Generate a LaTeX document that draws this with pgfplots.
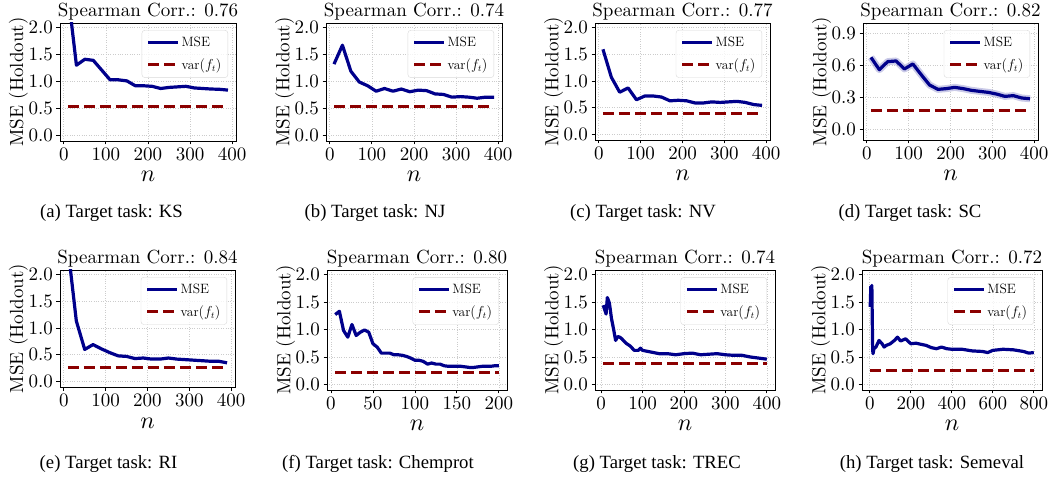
\documentclass[border=0pt]{standalone}
\usepackage{fontspec}
\usepackage{pgfplots}
\pgfplotsset{compat=1.18}
\newfontfamily\capfont{Liberation Serif}
\definecolor{mseblue}{RGB}{0,0,139}
\definecolor{varred}{RGB}{139,0,0}
\pgfplotsset{
  panel/.style={
    scale only axis,
    tick align=outside, tick pos=left,
    major tick length=3.5pt,
    every tick/.style={black, line width=0.8pt},
    axis line style={black, line width=0.9pt},
    grid=major, grid style={gray!40, dotted, line width=0.6pt},
    tick label style={font=\fontsize{10}{12}\selectfont, scale=1.9, inner sep=1.75pt},
    every axis title/.style={at={(0.5,1)}, anchor=south, inner sep=1.3pt, font=\fontsize{10}{12}\selectfont, scale=1.9},
    ylabel={MSE (Holdout)}, xlabel={$n$},
    every axis y label/.style={at={([xshift=-41.5pt]axis description cs:0,0.5)}, anchor=center, rotate=90, font=\fontsize{10}{12}\selectfont, scale=1.9},
    every axis x label/.style={at={([yshift=-41pt]axis description cs:0.5,0)}, anchor=base, inner sep=0.5pt, font=\fontsize{10}{12}\selectfont, scale=2.4},
    ymin=-0.1, ymax=2.08, ytick={0,0.5,1,1.5,2},
    yticklabel style={/pgf/number format/.cd, fixed, fixed zerofill, precision=1},
    legend style={at={(0.955,0.94)}, anchor=north east, font=\fontsize{13.5}{14}\selectfont,
      draw=black!15, rounded corners=3pt, fill=white, fill opacity=0.8, text opacity=1,
      inner xsep=4.5pt, inner ysep=5pt, row sep=6pt, cells={anchor=west}},
    legend image code/.code={\draw[#1] (0pt,0pt) -- (30pt,0pt);},
  },
  mse/.style={mseblue, line width=3.2pt, line join=round},
  var/.style={varred, line width=3pt, dash pattern=on 11pt off 5pt},
}
\begin{document}
\begin{tikzpicture}[x=1pt,y=1pt]
\useasboundingbox (0,0) rectangle (1050,482);
% (a) KS
\begin{axis}[panel, at={(60pt,341pt)}, anchor=south west, width=176pt, height=118pt,
  xmin=-9, xmax=409, xtick={0,100,200,300,400}, title={Spearman Corr.: 0.76}]
\addplot[mse] coordinates {(10,2.63)(30,1.30)(50,1.41)(70,1.39)(90,1.21)(110,1.03)(130,1.03)(150,1.01)(170,0.92)(190,0.92)(210,0.91)(230,0.87)(250,0.89)(270,0.90)(290,0.91)(310,0.88)(330,0.87)(350,0.86)(370,0.855)(390,0.84)};
\addlegendentry{MSE}
\addplot[var] coordinates {(10,0.53)(390,0.53)};
\addlegendentry{var$(f_t)$}
\end{axis}
% (b) NJ
\begin{axis}[panel, at={(326pt,341pt)}, anchor=south west, width=176pt, height=118pt,
  xmin=-9, xmax=409, xtick={0,100,200,300,400}, title={Spearman Corr.: 0.74}]
\addplot[mse] coordinates {(10,1.32)(30,1.67)(50,1.19)(70,0.99)(90,0.92)(110,0.82)(130,0.87)(150,0.82)(170,0.86)(190,0.81)(210,0.84)(230,0.83)(250,0.77)(270,0.76)(290,0.71)(310,0.72)(330,0.71)(350,0.69)(370,0.71)(390,0.71)};
\addlegendentry{MSE}
\addplot[var] coordinates {(10,0.53)(390,0.53)};
\addlegendentry{var$(f_t)$}
\end{axis}
% (c) NV
\begin{axis}[panel, at={(595pt,342pt)}, anchor=south west, width=175pt, height=117pt,
  xmin=-9, xmax=409, xtick={0,100,200,300,400}, title={Spearman Corr.: 0.77}]
\addplot[mse] coordinates {(10,1.59)(30,1.07)(50,0.79)(70,0.87)(90,0.65)(110,0.72)(130,0.72)(150,0.70)(170,0.63)(190,0.64)(210,0.63)(230,0.59)(250,0.59)(270,0.61)(290,0.60)(310,0.61)(330,0.62)(350,0.60)(370,0.56)(390,0.545)};
\addlegendentry{MSE}
\addplot[var] coordinates {(10,0.385)(390,0.385)};
\addlegendentry{var$(f_t)$}
\end{axis}
% (d) SC
\begin{axis}[panel, at={(863pt,342pt)}, anchor=south west, width=175pt, height=117pt,
  xmin=-9, xmax=409, xtick={0,100,200,300,400}, ymin=-0.1, ymax=1.0, ytick={0,0.3,0.6,0.9},
  title={Spearman Corr.: 0.82}]
\addplot[mseblue!45, opacity=0.45, line width=7pt, line join=round, forget plot] coordinates {(10,0.677)(30,0.561)(50,0.637)(70,0.643)(90,0.568)(110,0.615)(130,0.514)(150,0.417)(170,0.376)(190,0.383)(210,0.395)(230,0.383)(250,0.367)(270,0.357)(290,0.348)(310,0.332)(330,0.310)(350,0.317)(370,0.295)(390,0.288)};
\addplot[mse] coordinates {(10,0.677)(30,0.561)(50,0.637)(70,0.643)(90,0.568)(110,0.615)(130,0.514)(150,0.417)(170,0.376)(190,0.383)(210,0.395)(230,0.383)(250,0.367)(270,0.357)(290,0.348)(310,0.332)(330,0.310)(350,0.317)(370,0.295)(390,0.288)};
\addlegendentry{MSE}
\addplot[var] coordinates {(10,0.176)(390,0.176)};
\addlegendentry{var$(f_t)$}
\end{axis}
% (e) RI
\begin{axis}[panel, at={(60pt,95pt)}, anchor=south west, width=175pt, height=117pt,
  xmin=-9, xmax=409, xtick={0,100,200,300,400}, title={Spearman Corr.: 0.84}]
\addplot[mse] coordinates {(10,2.49)(30,1.13)(50,0.60)(70,0.69)(90,0.61)(110,0.54)(130,0.48)(150,0.47)(170,0.43)(190,0.44)(210,0.42)(230,0.42)(250,0.44)(270,0.42)(290,0.41)(310,0.40)(330,0.39)(350,0.38)(370,0.38)(390,0.35)};
\addlegendentry{MSE}
\addplot[var] coordinates {(10,0.26)(390,0.26)};
\addlegendentry{var$(f_t)$}
\end{axis}
% (f) Chemprot
\begin{axis}[panel, at={(327pt,92pt)}, anchor=south west, width=180pt, height=120pt,
  xmin=-4.75, xmax=209.75, xtick={0,50,100,150,200}, title={Spearman Corr.: 0.80}]
\addplot[mse] coordinates {(5,1.27)(10,1.33)(15,0.98)(20,0.86)(25,1.09)(30,0.89)(35,0.95)(40,0.99)(45,0.95)(50,0.74)(55,0.68)(60,0.57)(65,0.57)(70,0.57)(75,0.54)(80,0.54)(85,0.53)(90,0.51)(95,0.48)(100,0.44)(105,0.44)(110,0.42)(115,0.37)(120,0.39)(125,0.37)(130,0.37)(135,0.34)(140,0.33)(145,0.33)(150,0.33)(155,0.33)(160,0.32)(165,0.31)(170,0.31)(175,0.32)(180,0.33)(185,0.33)(190,0.33)(195,0.34)(200,0.34)};
\addlegendentry{MSE}
\addplot[var] coordinates {(5,0.22)(200,0.22)};
\addlegendentry{var$(f_t)$}
\end{axis}
% (g) TREC
\begin{axis}[panel, at={(595pt,92pt)}, anchor=south west, width=180pt, height=120pt,
  xmin=-14.75, xmax=419.75, xtick={0,100,200,300,400}, title={Spearman Corr.: 0.74}]
\addplot[mse] coordinates {(5,1.44)(10,1.33)(12,1.28)(15,1.58)(20,1.48)(25,1.20)(30,1.01)(35,0.80)(40,0.87)(45,0.86)(50,0.83)(60,0.75)(70,0.70)(80,0.62)(90,0.62)(95,0.66)(100,0.62)(120,0.59)(140,0.56)(160,0.56)(180,0.54)(200,0.56)(220,0.57)(240,0.54)(260,0.55)(280,0.56)(300,0.54)(320,0.53)(340,0.53)(360,0.50)(380,0.48)(400,0.46)};
\addlegendentry{MSE}
\addplot[var] coordinates {(5,0.39)(400,0.39)};
\addlegendentry{var$(f_t)$}
\end{axis}
% (h) Semeval
\begin{axis}[panel, at={(862pt,92pt)}, anchor=south west, width=180pt, height=120pt,
  xmin=-38, xmax=840, xtick={0,200,400,600,800}, title={Spearman Corr.: 0.72}]
\addplot[mse] coordinates {(2,1.41)(5,1.78)(8,1.65)(10,1.80)(14,0.62)(16,0.56)(20,0.65)(30,0.68)(45,0.80)(60,0.74)(70,0.68)(80,0.71)(100,0.74)(120,0.80)(135,0.86)(150,0.79)(175,0.83)(200,0.74)(225,0.75)(250,0.73)(275,0.71)(300,0.67)(325,0.65)(350,0.68)(375,0.65)(400,0.64)(450,0.64)(500,0.61)(550,0.60)(575,0.58)(600,0.62)(650,0.64)(700,0.63)(750,0.60)(775,0.57)(800,0.58)};
\addlegendentry{MSE}
\addplot[var] coordinates {(2,0.255)(800,0.255)};
\addlegendentry{var$(f_t)$}
\end{axis}
% captions
\begin{scope}[every node/.style={anchor=base, font=\capfont\fontsize{18.7}{19}\selectfont}]
\node at (111.5,264) {(a) Target task: KS};
\node at (375,264) {(b) Target task: NJ};
\node at (643,264) {(c) Target task: NV};
\node at (910,264) {(d) Target task: SC};
\node at (108.5,13) {(e) Target task: RI};
\node at (378,13) {(f) Target task: Chemprot};
\node at (657,13) {(g) Target task: TREC};
\node at (932,13) {(h) Target task: Semeval};
\end{scope}
\end{tikzpicture}
\end{document}
